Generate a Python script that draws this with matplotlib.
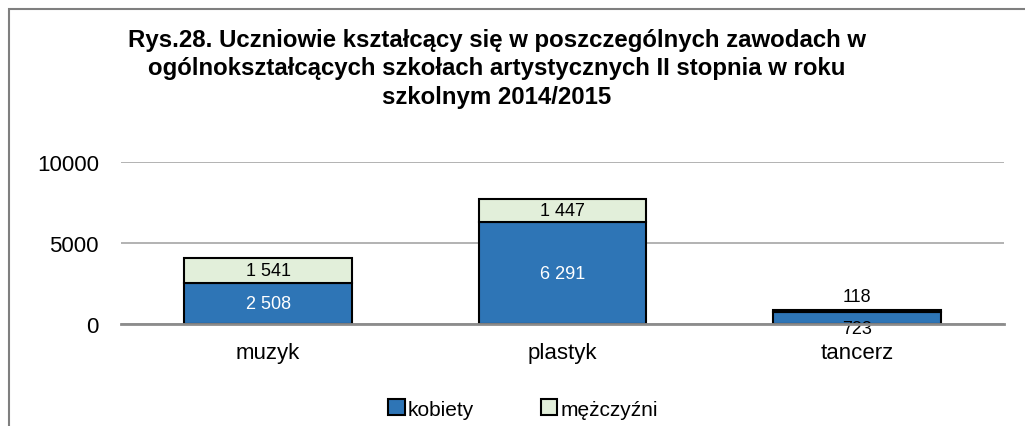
"""Rys.28 - uczniowie w zawodach, szkoły artystyczne II stopnia, 2014/2015."""

import matplotlib

matplotlib.use("Agg")
import matplotlib.pyplot as plt
from matplotlib.patches import Rectangle

plt.rcParams["font.family"] = ["Liberation Sans Narrow", "Liberation Sans", "DejaVu Sans"]

CATEGORIES = ["muzyk", "plastyk", "tancerz"]
KOBIETY = [2508, 6291, 723]
MEZCZYZNI = [1541, 1447, 118]
YTICKS = [0, 5000, 10000]
SERIES = ["kobiety", "mężczyźni"]

BLUE = "#2E75B6"
GREEN = "#E2EFDA"


def fmt(v):
    return f"{v:,}".replace(",", " ")


fig = plt.figure(figsize=(10.25, 4.27), dpi=100)
ax = fig.add_axes([121 / 1025, 1 - 325 / 427, 883 / 1025, 162 / 427])

x = range(len(CATEGORIES))
w = 0.57
b1 = ax.bar(x, KOBIETY, w, color=BLUE, edgecolor="black", linewidth=1.5, label=SERIES[0], zorder=3)
b2 = ax.bar(x, MEZCZYZNI, w, bottom=KOBIETY, color=GREEN, edgecolor="black", linewidth=1.5,
            label=SERIES[1], zorder=3)

for i, (k, m) in enumerate(zip(KOBIETY, MEZCZYZNI)):
    if k + m > 2000:
        ax.text(i, k / 2, fmt(k), ha="center", va="center", color="white", fontsize=13, zorder=4)
        ax.text(i, k + m / 2, fmt(m), ha="center", va="center", color="black", fontsize=13, zorder=4)
    else:
        # too thin - labels pushed above and below the bar
        ax.annotate(fmt(m), (i, k + m), xytext=(0, 4), textcoords="offset points",
                    ha="center", va="bottom", fontsize=13, zorder=4)
        ax.annotate(fmt(k), (i, k / 2), xytext=(0, -1), textcoords="offset points",
                    ha="center", va="top", fontsize=13, zorder=4)

ax.set_xlim(-0.5, len(CATEGORIES) - 0.5)
ax.set_ylim(0, 10000)
ax.set_yticks(YTICKS)
ax.set_yticklabels([str(t) for t in YTICKS], fontsize=16)
ax.set_xticks(list(x))
ax.set_xticklabels(CATEGORIES, fontsize=16)
ax.tick_params(axis="y", length=0, pad=16)
ax.tick_params(axis="x", length=0, pad=13)
ax.grid(axis="y", color="#A6A6A6", linewidth=1.2, zorder=0)
for s in ["top", "right", "left"]:
    ax.spines[s].set_visible(False)
ax.spines["bottom"].set_color("#8C8C8C")
ax.spines["bottom"].set_linewidth(2)
ax.spines["bottom"].set_zorder(5)

fig.text(497 / 1025, 1 - 69 / 427,
         "Rys.28. Uczniowie kształcący się w poszczególnych zawodach w\n"
         "ogólnokształcących szkołach artystycznych II stopnia w roku\n"
         "szkolnym 2014/2015",
         ha="center", va="center", fontsize=17.3, fontweight="bold", linespacing=1.3)

fig.legend(handles=[b1, b2], labels=SERIES, loc="center", bbox_to_anchor=(523 / 1025, 1 - 410 / 427),
           ncol=2, frameon=False, fontsize=15, handlelength=0.8, handleheight=0.8,
           handletextpad=0.15, columnspacing=3.2)

fig.patches.append(Rectangle((9 / 1025, -0.1), 1.2, 1 - 10 / 427 + 0.1, transform=fig.transFigure,
                             fill=False, edgecolor="#7F7F7F", linewidth=1.5))

fig.savefig("out.png", dpi=100)
